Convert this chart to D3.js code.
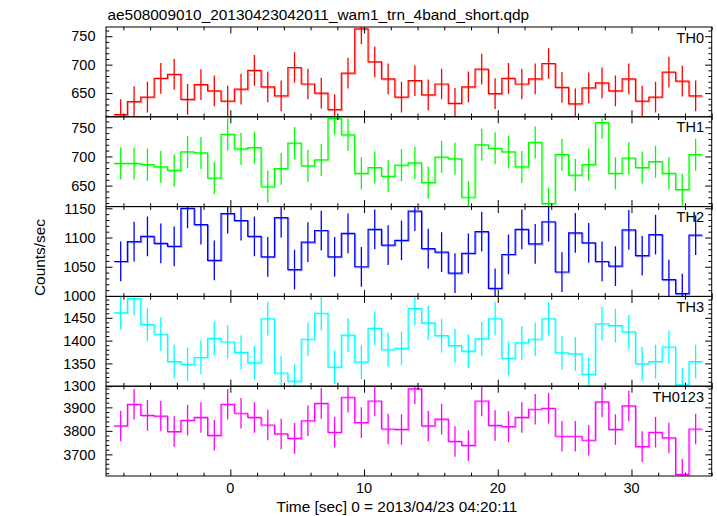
<!DOCTYPE html>
<html><head><meta charset="utf-8">
<script src="https://cdn.jsdelivr.net/npm/d3@7"></script>
<style>body{margin:0;background:#fff}svg{display:block}</style>
</head><body>
<script>
const title = "ae508009010_20130423042011_wam1_trn_4band_short.qdp";
const xLabel = "Time [sec] 0 = 2013/04/23 04:20:11";
const yLabel = "Counts/sec";
const panelNames = ["TH0", "TH1", "TH2", "TH3", "TH0123"];
const panelColors = ["#ff0000", "#00ff00", "#0000ff", "#00ffff", "#ff00ff"];
const binTimes = [-8.2,-7.2,-6.2,-5.2,-4.2,-3.2,-2.2,-1.2,-0.2,0.8,1.8,2.8,3.8,4.8,5.8,6.8,7.8,8.8,9.8,10.8,11.8,12.8,13.8,14.8,15.8,16.8,17.8,18.8,19.8,20.8,21.8,22.8,23.8,24.8,25.8,26.8,27.8,28.8,29.8,30.8,31.8,32.8,33.8,34.8];
const binWidth = 1;
const th0 = [612,635,643,676,683,639,665,654,636,657,690,661,645,695,666,650,621,685,763,705,675,643,672,647,666,632,661,692,649,676,666,675,702,660,631,659,668,654,675,636,643,687,671,645];
const th1 = [688,688,686,682,676,708,706,663,738,713,715,648,679,723,684,694,765,737,671,681,666,685,689,655,699,696,630,720,714,708,682,724,619,703,668,686,758,671,697,681,691,671,643,703];
const th2 = [1059,1093,1102,1090,1085,1150,1122,1061,1141,1129,1102,1067,1134,1045,1092,1112,1067,1107,1050,1114,1087,1095,1145,1081,1075,1039,1073,1110,1013,1071,1114,1089,1127,1041,1108,1091,1059,1051,1113,1069,1105,1028,1004,1104];
const th3 = [1461,1492,1435,1414,1354,1348,1363,1405,1397,1374,1351,1448,1329,1311,1403,1460,1342,1412,1353,1427,1380,1383,1470,1439,1411,1389,1377,1404,1448,1361,1395,1403,1448,1373,1371,1326,1437,1433,1419,1349,1354,1386,1303,1354];
const th0123 = [3821,3913,3866,3863,3797,3845,3857,3781,3913,3875,3857,3825,3787,3768,3843,3917,3794,3943,3835,3927,3808,3806,3979,3821,3850,3755,3738,3927,3823,3818,3857,3892,3896,3777,3777,3760,3923,3806,3906,3733,3794,3770,3615,3808];
const seriesErrors = [27, 27.5, 34, 37, 65];
const yDomains = [[608.3, 766.2], [614, 768], [999.3, 1152.9], [1300, 1497], [3608, 3990]];
const yTickLabels = [[650, 700, 750], [650, 700, 750], [1000, 1050, 1100, 1150], [1300, 1350, 1400, 1450], [3700, 3800, 3900]];
const yMinorStep = [10, 10, 10, 10, 20];
const xDomain = [-9.3, 36.0];
const xTickLabels = [0, 10, 20, 30];
const xMinorStep = 2;

const series = [th0, th1, th2, th3, th0123];
const W = 717, H = 516;
const plotL = 106, plotR = 711.7, plotT = 27, plotB = 476;
const ph = (plotB - plotT) / 5;
const font = "'Liberation Sans', Arial, Helvetica, sans-serif";

const svg = d3.select("body").append("svg").attr("width", W).attr("height", H);
const x = d3.scaleLinear().domain(xDomain).range([plotL, plotR]);
const xMinor = d3.range(Math.ceil(xDomain[0] / xMinorStep) * xMinorStep, xDomain[1] + 1e-9, xMinorStep)
  .filter(v => !xTickLabels.includes(v));

svg.append("text").attr("x", 107.5).attr("y", 19.5).attr("font-family", font).attr("font-size", 15.4)
  .attr("fill", "#000").text(title);

series.forEach((vals, p) => {
  const y0 = plotT + p * ph, y1 = y0 + ph;
  const y = d3.scaleLinear().domain(yDomains[p]).range([y1, y0]);
  const g = svg.append("g");
  const clipId = "clip" + p;
  svg.append("clipPath").attr("id", clipId).append("rect")
    .attr("x", plotL).attr("y", y0).attr("width", plotR - plotL).attr("height", ph);
  const data = vals.map((v, i) => ({t: binTimes[i], v}));
  const color = panelColors[p];
  const plot = g.append("g").attr("clip-path", `url(#${clipId})`);
  const pts = data.map(d => [d.t - binWidth / 2, d.v]);
  pts.push([data[data.length - 1].t + binWidth / 2, data[data.length - 1].v]);
  const line = d3.line().x(d => x(d[0])).y(d => y(d[1])).curve(d3.curveStepAfter);
  plot.append("path").attr("d", line(pts)).attr("fill", "none").attr("stroke", color)
    .attr("stroke-width", 1.3).attr("stroke-opacity", 0.4).attr("transform", "translate(0.9,0.9)");
  plot.append("path").attr("d", line(pts)).attr("fill", "none").attr("stroke", color).attr("stroke-width", 1.2);
  plot.selectAll("line.err").data(data).join("line").attr("class", "err")
    .attr("x1", d => x(d.t)).attr("x2", d => x(d.t))
    .attr("y1", d => y(d.v - seriesErrors[p])).attr("y2", d => y(d.v + seriesErrors[p]))
    .attr("stroke", color).attr("stroke-width", 1.3);

  const yMinor = d3.range(Math.ceil(yDomains[p][0] / yMinorStep[p]) * yMinorStep[p], yDomains[p][1] + 1e-9, yMinorStep[p])
    .filter(v => !yTickLabels[p].includes(v));
  const axL = d3.axisLeft(y).tickValues(yTickLabels[p]).tickSize(-6.5).tickFormat("");
  const axLm = d3.axisLeft(y).tickValues(yMinor).tickSize(-3.3).tickFormat("");
  const axR = d3.axisRight(y).tickValues(yTickLabels[p]).tickSize(-6.5).tickFormat("");
  const axRm = d3.axisRight(y).tickValues(yMinor).tickSize(-3.3).tickFormat("");
  [[axL, plotL], [axLm, plotL], [axR, plotR], [axRm, plotR]].forEach(([ax, px]) => {
    const a = g.append("g").attr("transform", `translate(${px},0)`).call(ax);
    a.select(".domain").remove();
    a.selectAll("line").attr("stroke", "#000").attr("stroke-width", 1);
  });
  const axB = d3.axisBottom(x).tickValues(xTickLabels).tickSize(-6.5).tickFormat("");
  const axBm = d3.axisBottom(x).tickValues(xMinor).tickSize(-3.3).tickFormat("");
  const axT = d3.axisTop(x).tickValues(xTickLabels).tickSize(-6.5).tickFormat("");
  const axTm = d3.axisTop(x).tickValues(xMinor).tickSize(-3.3).tickFormat("");
  [[axB, y1], [axBm, y1], [axT, y0], [axTm, y0]].forEach(([ax, py]) => {
    const a = g.append("g").attr("transform", `translate(0,${py})`).call(ax);
    a.select(".domain").remove();
    a.selectAll("line").attr("stroke", "#000").attr("stroke-width", 1);
  });
  g.selectAll("text.yl").data(yTickLabels[p]).join("text").attr("class", "yl")
    .attr("x", 95.5).attr("y", d => y(d)).attr("dy", "0.36em").attr("text-anchor", "end")
    .attr("font-family", font).attr("font-size", 14.5).attr("fill", "#000").text(d => d);
  g.append("rect").attr("x", plotL).attr("y", y0).attr("width", plotR - plotL).attr("height", ph)
    .attr("fill", "none").attr("stroke", "#000").attr("stroke-width", 1);
  g.append("text").attr("x", 704).attr("y", y0 + 15.5).attr("text-anchor", "end")
    .attr("font-family", font).attr("font-size", 14.5).attr("fill", "#000").text(panelNames[p]);
});

svg.selectAll("text.xl").data(xTickLabels).join("text").attr("class", "xl")
  .attr("x", d => x(d)).attr("y", 492.5).attr("text-anchor", "middle")
  .attr("font-family", font).attr("font-size", 14.5).attr("fill", "#000").text(d => d);
svg.append("text").attr("x", 397).attr("y", 511.5).attr("text-anchor", "middle")
  .attr("font-family", font).attr("font-size", 15.4).attr("fill", "#000").text(xLabel);
svg.append("text").attr("transform", `translate(45,257.5) rotate(-90)`).attr("text-anchor", "middle")
  .attr("font-family", font).attr("font-size", 15.4).attr("fill", "#000").text(yLabel);
</script>
</body></html>
